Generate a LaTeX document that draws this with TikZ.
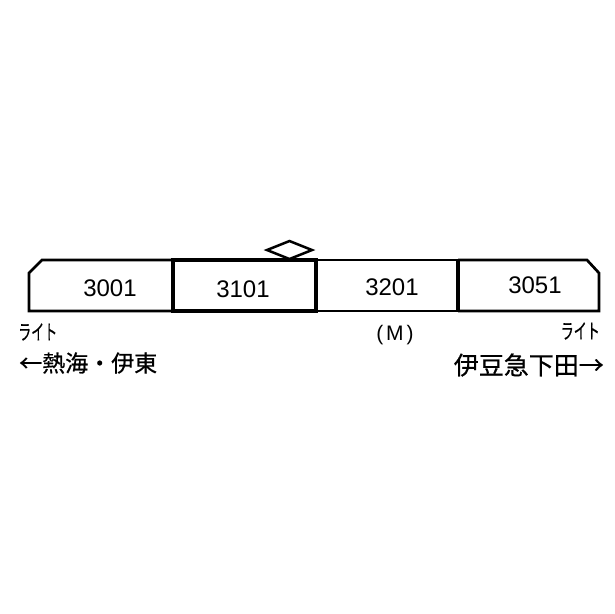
\documentclass[tikz,border=0pt]{standalone}
\usepackage{fontspec}
\setmainfont{Liberation Sans}
\newfontfamily\jpfont[FakeBold=0.6]{Noto Sans CJK JP}
\newfontfamily\jplight[FakeBold=0.4]{Noto Sans CJK JP}
\begin{document}
\begin{tikzpicture}[x=1pt,y=-1pt,
  thinline/.style={line width=2.7pt,line join=miter},
  thickline/.style={line width=4pt,line join=miter},
  carnum/.style={inner sep=0pt,font=\fontsize{24}{24}\selectfont},
  jp/.style={inner sep=0pt,font=\jpfont\fontsize{23}{23}\selectfont},
  light/.style={inner sep=0pt,font=\jplight\fontsize{21}{21}\selectfont}]
\useasboundingbox (0,0) rectangle (614,614);
\fill[white] (0,0) rectangle (614,614);
% cars
\draw[thinline] (173,260) -- (42,260) -- (29,273) -- (29,311) -- (173,311);
\draw[thinline] (316,260) -- (458,260);
\draw[thinline] (316,311) -- (458,311);
\draw[thinline] (458,260) -- (587,260) -- (599,273) -- (599,311) -- (458,311);
\draw[line width=3.5pt] (458,260) -- (458,311);
\draw[thickline] (173,260) rectangle (316,311);
% pantograph
\draw[line width=2.5pt,line join=miter] (267,250) -- (289.5,241) -- (312,250) -- (289.5,259) -- cycle;
% numbers
\node[carnum] (c1) at (110,288) {3001};
\node[carnum] (c2) at (243,289) {3101};
\node[carnum] (c3) at (392,287) {3201};
\node[carnum] (c4) at (535,285) {3051};
% labels
\node[light,anchor=west] (l1) at (18,332) {\scalebox{0.62}[1]{ライト}};
\node[light,anchor=east] (l2) at (600,331) {\scalebox{0.62}[1]{ライト}};
\node[inner sep=0pt,font=\fontsize{21}{21}\selectfont] (m) at (395,335) {(\hspace{3pt}M\hspace{3pt})};
\node[jp,anchor=west] (d1) at (19,363) {←熱海・伊東};
\node[jp,anchor=east,font=\jpfont\fontsize{25}{25}\selectfont] (d2) at (604,365) {伊豆急下田→};
\end{tikzpicture}
\end{document}
